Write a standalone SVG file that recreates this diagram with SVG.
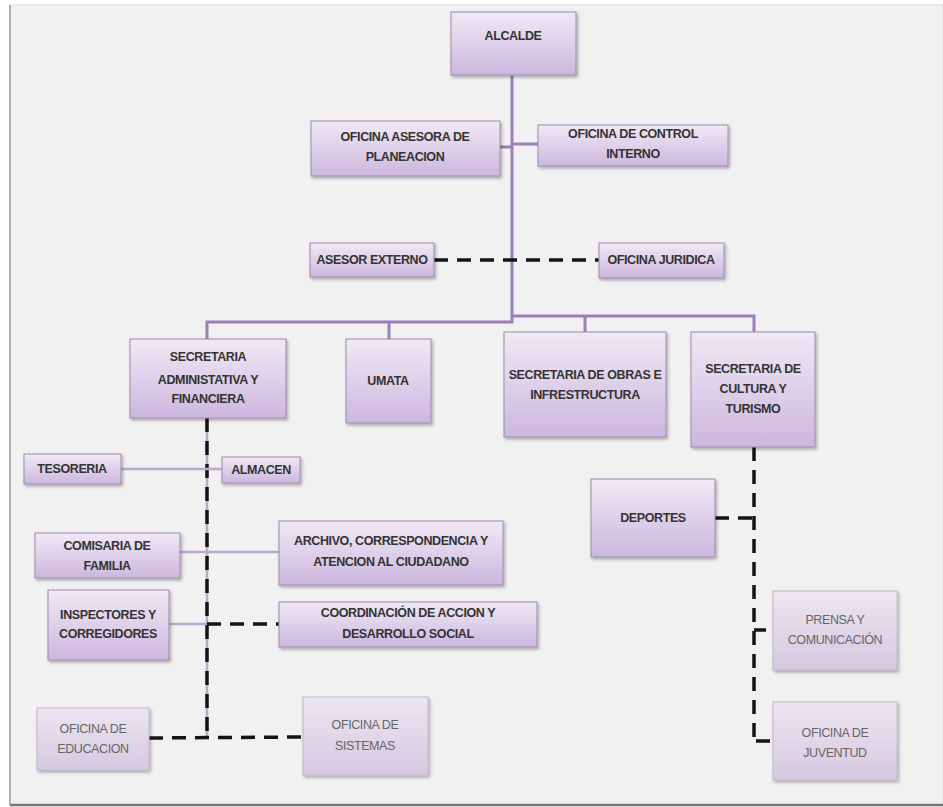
<svg xmlns="http://www.w3.org/2000/svg" width="943" height="807" viewBox="0 0 943 807">
<style>
  .box{fill:url(#g1);stroke:#9c8cae;stroke-width:1;filter:url(#sh)}
  .boxl{fill:url(#g2);stroke:#c2b6ce;stroke-width:1;filter:url(#sh)}
  .t{font-family:"Liberation Sans",Arial,sans-serif;font-size:12.5px;font-weight:bold;fill:#333333;text-anchor:middle;letter-spacing:-0.4px}
  .tl{font-family:"Liberation Sans",Arial,sans-serif;font-size:12.5px;fill:#666666;text-anchor:middle;letter-spacing:-0.4px}
  .p{stroke:#9b80b8;stroke-width:3;fill:none}
  .pl{stroke:#bba8cf;stroke-width:2.5;fill:none}
  .d{stroke:#141414;stroke-width:3.5;stroke-dasharray:14 9;fill:none}
  .s{stroke:#141414;stroke-width:3.5;fill:none}
</style>
<defs>
  <linearGradient id="g1" x1="0" y1="0" x2="0" y2="1">
    <stop offset="0" stop-color="#f0e9f5"/>
    <stop offset="1" stop-color="#ccb7de"/>
  </linearGradient>
  <linearGradient id="g2" x1="0" y1="0" x2="0" y2="1">
    <stop offset="0" stop-color="#ece6f1"/>
    <stop offset="1" stop-color="#d5c8e0"/>
  </linearGradient>
  <filter id="sh" x="-10%" y="-10%" width="130%" height="140%">
    <feDropShadow dx="1.5" dy="2" stdDeviation="1.5" flood-color="#000" flood-opacity="0.3"/>
  </filter>
</defs>
<rect x="0" y="0" width="943" height="807" fill="#ffffff"/>
<rect x="10" y="5" width="933" height="800" fill="#f1f1f1" stroke="#d8d8d8" stroke-width="1"/>
<line x1="10" y1="5" x2="10" y2="805" stroke="#b0b0b0" stroke-width="2"/>
<line x1="10" y1="805" x2="943" y2="805" stroke="#777777" stroke-width="2.5"/>

<g id="connectors">
  <line class="p" x1="512" y1="76" x2="512" y2="323"/>
  <line class="p" x1="500" y1="147" x2="512" y2="147"/>
  <line class="p" x1="512" y1="144" x2="538" y2="144"/>
  <line class="d" x1="434" y1="260" x2="599" y2="260"/>
  <polyline class="p" points="207,339 207,322 513,322"/>
  <line class="p" x1="389" y1="322" x2="389" y2="339"/>
  <polyline class="p" points="512,316 754,316 754,332"/>
  <line class="p" x1="585" y1="316" x2="585" y2="332"/>
  <line class="pl" x1="207" y1="418" x2="207" y2="738"/>
  <line class="d" x1="207" y1="418" x2="207" y2="738"/>
  <line class="pl" x1="121" y1="469" x2="222" y2="469"/>
  <line class="pl" x1="180" y1="552" x2="279" y2="552"/>
  <line class="pl" x1="169" y1="624" x2="207" y2="624"/>
  <line class="d" x1="207" y1="624" x2="279" y2="624"/>
  <line class="d" x1="149" y1="738" x2="303" y2="737"/>
  <line class="d" x1="754" y1="447" x2="754" y2="741"/>
  <line class="d" x1="715" y1="518" x2="754" y2="518"/>
  <line class="s" x1="754" y1="630" x2="766" y2="630"/>
  <line class="s" x1="756" y1="741" x2="770" y2="741"/>
</g>

<g id="alcalde"><rect class="box" x="451" y="12" width="125" height="63"/><text class="t" x="513" y="40">ALCALDE</text></g>
<g id="planeacion"><rect class="box" x="311" y="121" width="189" height="55"/><text class="t" x="405" y="141">OFICINA ASESORA DE</text><text class="t" x="405" y="161">PLANEACION</text></g>
<g id="control-interno"><rect class="box" x="538" y="125" width="190" height="41"/><text class="t" x="633" y="138">OFICINA DE CONTROL</text><text class="t" x="633" y="158">INTERNO</text></g>
<g id="asesor-externo"><rect class="box" x="310" y="243" width="124" height="34"/><text class="t" x="372" y="264">ASESOR EXTERNO</text></g>
<g id="juridica"><rect class="box" x="599" y="243" width="125" height="35"/><text class="t" x="661" y="264">OFICINA JURIDICA</text></g>
<g id="sec-adm"><rect class="box" x="130" y="339" width="156" height="79"/><text class="t" x="208" y="361">SECRETARIA</text><text class="t" x="208" y="384">ADMINISTATIVA Y</text><text class="t" x="208" y="403">FINANCIERA</text></g>
<g id="umata"><rect class="box" x="346" y="339" width="85" height="84"/><text class="t" x="388" y="385">UMATA</text></g>
<g id="obras"><rect class="box" x="504" y="332" width="162" height="105"/><text class="t" x="585" y="379">SECRETARIA DE OBRAS E</text><text class="t" x="585" y="399">INFRESTRUCTURA</text></g>
<g id="cultura"><rect class="box" x="691" y="332" width="124" height="115"/><text class="t" x="753" y="373">SECRETARIA DE</text><text class="t" x="753" y="393">CULTURA Y</text><text class="t" x="753" y="413">TURISMO</text></g>
<g id="tesoreria"><rect class="box" x="24" y="454" width="97" height="30"/><text class="t" x="72" y="473">TESORERIA</text></g>
<g id="almacen"><rect class="box" x="222" y="457" width="78" height="26"/><text class="t" x="261" y="474">ALMACEN</text></g>
<g id="comisaria"><rect class="box" x="35" y="533" width="145" height="45"/><text class="t" x="107" y="550">COMISARIA DE</text><text class="t" x="107" y="570">FAMILIA</text></g>
<g id="archivo"><rect class="box" x="279" y="521" width="224" height="64"/><text class="t" x="391" y="545">ARCHIVO, CORRESPONDENCIA Y</text><text class="t" x="391" y="566">ATENCION AL CIUDADANO</text></g>
<g id="inspectores"><rect class="box" x="48" y="590" width="121" height="70"/><text class="t" x="108" y="619">INSPECTORES Y</text><text class="t" x="108" y="638">CORREGIDORES</text></g>
<g id="coordinacion"><rect class="box" x="279" y="602" width="258" height="45"/><text class="t" x="408" y="617">COORDINACIÓN DE ACCION Y</text><text class="t" x="408" y="638">DESARROLLO SOCIAL</text></g>
<g id="educacion"><rect class="boxl" x="37" y="708" width="112" height="62"/><text class="tl" x="93" y="733">OFICINA DE</text><text class="tl" x="93" y="753">EDUCACION</text></g>
<g id="sistemas"><rect class="boxl" x="303" y="697" width="125" height="78"/><text class="tl" x="365" y="729">OFICINA DE</text><text class="tl" x="365" y="750">SISTEMAS</text></g>
<g id="deportes"><rect class="box" x="591" y="479" width="124" height="78"/><text class="t" x="653" y="522">DEPORTES</text></g>
<g id="prensa"><rect class="boxl" x="773" y="591" width="124" height="79"/><text class="tl" x="835" y="624">PRENSA Y</text><text class="tl" x="835" y="644">COMUNICACIÓN</text></g>
<g id="juventud"><rect class="boxl" x="773" y="702" width="124" height="78"/><text class="tl" x="835" y="737">OFICINA DE</text><text class="tl" x="835" y="757">JUVENTUD</text></g>
</svg>
